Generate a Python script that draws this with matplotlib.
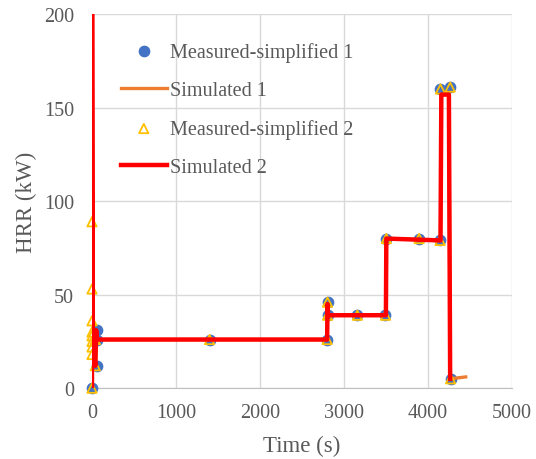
import matplotlib
matplotlib.use("Agg")
import matplotlib.pyplot as plt

# Measured-simplified 1 (blue circles)
t_meas1 = [0, 60, 60, 60, 1400, 2800, 2805, 2805, 3160, 3495, 3505, 3895, 4145, 4150, 4265, 4270]
q_meas1 = [0, 12, 31, 26, 26, 26, 46, 39, 39, 39, 80, 80, 79, 160, 161, 5]

# Simulated 1 (orange line)
t_sim1 = [0, 0, 10, 40, 50, 60, 70, 2800, 2805, 2810, 3500, 3505, 4150, 4160, 4250, 4265, 4450]
q_sim1 = [0, 90, 26, 12, 31, 26, 26, 26, 45, 39, 39, 80, 79, 157, 157, 5, 6]

# Measured-simplified 2 (hollow triangles)
t_meas2 = [0, 0, 0, 0, 0, 0, 0, 0, 0, 40, 40, 1400, 2800, 2805, 2805, 3160, 3495, 3505, 3895,
           4145, 4150, 4265, 4270]
q_meas2 = [0, 18, 22, 25, 28, 30, 36, 53, 89, 12, 26, 26, 26, 46, 39, 39, 39, 80, 80,
           79, 160, 161, 5]

# Simulated 2 (red line)
t_sim2 = [0, 0, 10, 40, 50, 60, 70, 2800, 2805, 2810, 3500, 3505, 4150, 4160, 4250, 4265]
q_sim2 = [0, 260, 26, 12, 31, 26, 26, 26, 45, 39, 39, 80, 79, 157, 157, 5]

x_ticks = [0, 1000, 2000, 3000, 4000, 5000]
y_ticks = [0, 50, 100, 150, 200]

plt.rcParams['font.family'] = ['Liberation Serif', 'DejaVu Serif']
text_color = '#595959'

fig = plt.figure(figsize=(5.36, 4.60), dpi=100)
ax = fig.add_axes([0.1716, 0.154, 0.7834, 0.813])

ax.scatter(t_meas1, q_meas1, s=55, color='#4472C4', zorder=3, label='Measured-simplified 1',
           clip_on=False)
ax.plot(t_sim1, q_sim1, color='#ED7D31', lw=2.4, zorder=4, label='Simulated 1')
ax.scatter(t_meas2, q_meas2, s=45, marker='^', facecolors='none', edgecolors='#FFC000',
           linewidths=1.3, zorder=5, label='Measured-simplified 2', clip_on=False)
ax.plot(t_sim2, q_sim2, color='#FF0000', lw=3.2, zorder=6, label='Simulated 2')

ax.set_xlim(0, 5000)
ax.set_ylim(0, 200)
ax.set_xticks(x_ticks)
ax.set_yticks(y_ticks)
ax.grid(True, color='#d9d9d9', lw=1)
ax.set_axisbelow(True)
for side in ['top', 'right', 'left']:
    ax.spines[side].set_visible(False)
ax.spines['bottom'].set_color('#bfbfbf')
ax.tick_params(length=0, labelsize=14.5, labelcolor=text_color)
ax.tick_params(axis='x', pad=11)
ax.tick_params(axis='y', pad=13)

ax.set_xlabel('Time (s)', fontsize=16.5, color=text_color, labelpad=9)
ax.set_ylabel('HRR (kW)', fontsize=16.5, color=text_color, labelpad=5)

leg = ax.legend(loc='upper left', bbox_to_anchor=(0.025, 0.975), frameon=False,
                fontsize=14.5, labelspacing=0.95, handlelength=2.3, handletextpad=0.15,
                labelcolor=text_color)

fig.savefig('out.png', dpi=100)
